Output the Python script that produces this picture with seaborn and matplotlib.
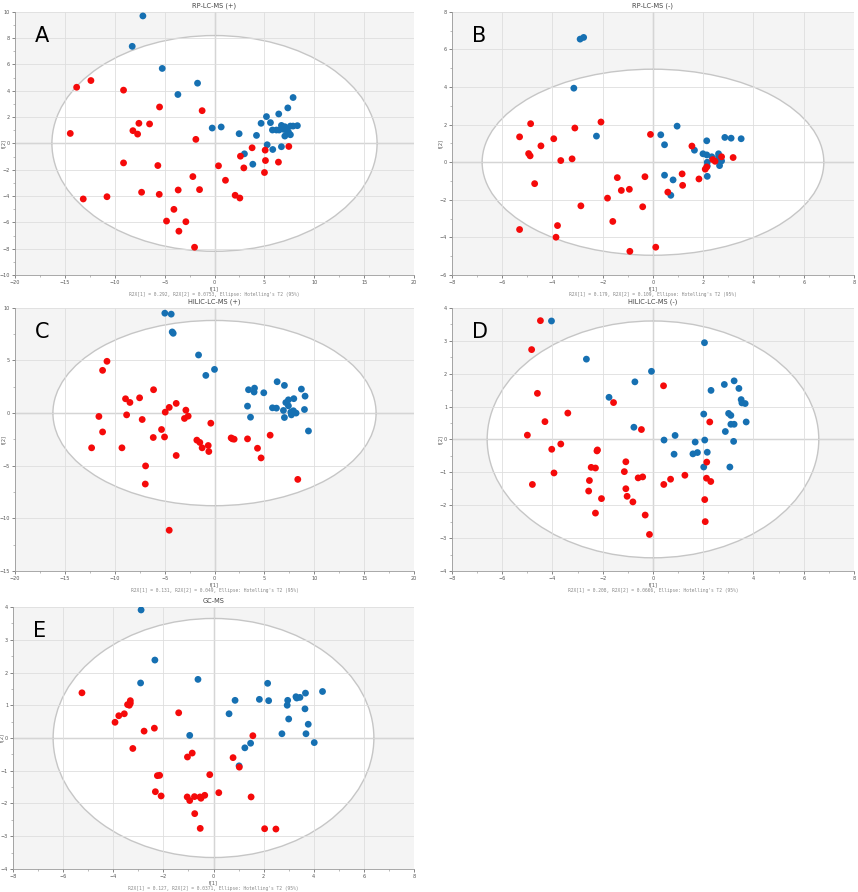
import numpy as np
import pandas as pd
import matplotlib
matplotlib.use('Agg')
import matplotlib.pyplot as plt
from matplotlib.patches import Ellipse
from matplotlib.ticker import MultipleLocator, AutoMinorLocator
import seaborn as sns

# ── Score values ─────────────────────────────────────────────
a_blue_x = [-7.18, -8.25, -5.24, -1.70, -3.67, -0.23, 0.67, 2.47, 3.0, 3.84, 4.21, 4.67, 5.21, 5.61,
            5.28, 5.84, 6.44, 7.35, 7.88, 5.81, 6.21, 6.48, 6.71, 7.05, 7.21, 7.61, 7.88, 8.31, 7.41,
            7.05, 7.61, 6.71, 6.94]
a_blue_y = [9.69, 7.38, 5.70, 4.58, 3.72, 1.17, 1.25, 0.74, -0.79, -1.58, 0.61, 1.53, 2.04, 1.58,
            -0.10, -0.46, 2.24, 2.70, 3.49, 1.02, 1.02, 1.02, 1.37, 1.27, 1.02, 1.32, 1.32, 1.35, 0.87,
            0.56, 0.66, -0.25, 1.07]
a_red_x = [-14.46, -13.82, -12.39, -13.16, -10.78, -9.12, -9.12, -8.18, -7.71, -7.58, -6.51, -5.51,
           -5.68, -7.31, -5.54, -3.64, -4.07, -4.81, -2.87, -3.57, -2.0, -2.17, -1.50, -1.87, -1.24,
           0.40, 1.10, 2.07, 2.54, 2.60, 2.94, 3.77, 5.08, 5.11, 5.01, 6.41, 7.45]
a_red_y = [0.76, 4.27, 4.78, -4.22, -4.05, 4.05, -1.48, 0.97, 0.71, 1.53, 1.48, 2.77,
           -1.68, -3.71, -3.87, -3.54, -5.01, -5.90, -5.95, -6.67, -7.89, -2.52, -3.51, 0.31, 2.49,
           -1.70, -2.80, -3.94, -4.15, -0.97, -1.86, -0.33, -0.51, -1.30, -2.21, -1.42, -0.23]

b_blue_x = [-2.90, -2.76, -3.15, -2.25, 0.31, 0.46, 0.96, 1.65, 2.14, 1.99, 2.14, 2.34, 2.61, 2.61,
            2.63, 2.73, 2.16, 2.16, 2.65, 2.16, 0.46, 0.80, 0.71, 2.86, 3.11, 3.51]
b_blue_y = [6.55, 6.64, 3.94, 1.39, 1.46, 0.93, 1.92, 0.64, 1.14, 0.45, 0.39, 0.29, 0.45, 0.29,
            0.14, 0.07, 0.0, -0.20, -0.18, -0.75, -0.69, -0.94, -1.76, 1.32, 1.28, 1.25]
b_red_x = [-5.31, -5.31, -4.87, -4.95, -4.89, -4.71, -4.46, -3.95, -3.67, -3.22, -3.11, -2.87,
           -3.80, -3.86, -2.07, -1.42, -1.26, -0.94, -1.81, -1.60, -0.92, 0.11, -0.41, -0.32,
           -0.10, 0.59, 1.16, 1.18, 1.55, 1.83, 2.08, 2.14, 2.38, 2.47, 2.73, 3.19]
b_red_y = [-3.58, 1.35, 2.05, 0.46, 0.34, -1.14, 0.87, 1.25, 0.09, 0.18, 1.82, -2.32,
           -3.37, -3.99, 2.14, -0.82, -1.50, -1.44, -1.91, -3.15, -4.74, -4.52, -2.37, -0.77,
           1.48, -1.59, -0.62, -1.23, 0.86, -0.89, -0.37, -0.25, 0.14, 0.05, 0.29, 0.25]

c_blue_x = [-4.98, -4.34, -4.24, -4.14, -1.60, 0.0, -0.87, 3.31, 3.41, 4.01, 3.97, 3.61, 4.94, 5.81,
            6.21, 6.28, 7.01, 7.41, 7.15, 7.41, 7.95, 6.91, 7.01, 7.71, 7.91, 8.18, 7.65, 8.71, 9.08,
            9.02, 9.42]
c_blue_y = [9.49, 9.40, 7.71, 7.58, 5.52, 4.15, 3.58, 0.66, 2.22, 2.37, 2.0, -0.39, 1.93, 0.50,
            0.47, 2.98, 2.63, 1.26, 1.0, 0.69, 1.37, 0.25, -0.42, -0.17, 0.22, 0.0, 0.09, 2.28, 1.61,
            0.34, -1.70]
c_red_x = [-12.32, -11.59, -11.22, -11.22, -10.78, -9.28, -8.92, -8.81, -8.48, -7.51, -7.25, -6.91,
           -6.94, -6.11, -6.14, -5.31, -5.01, -4.94, -4.54, -3.84, -3.84, -4.54, -3.01, -2.87, -2.64,
           -1.77, -1.47, -1.24, -0.63, -0.57, -0.37, 1.67, 1.80, 1.97, 3.31, 4.31, 4.67, 5.58, 8.35]
c_red_y = [-3.30, -0.32, -1.79, 4.06, 4.92, -3.30, 1.36, -0.17, 1.01, 1.45, -0.61, -5.02,
           -6.74, 2.22, -2.32, -1.56, -2.27, 0.09, 0.54, 0.92, -4.03, -11.13, -0.51, 0.28, -0.29,
           -2.57, -2.79, -3.30, -3.08, -3.65, -0.96, -2.36, -2.45, -2.48, -2.45, -3.34, -4.26, -2.10, -6.30]

d_blue_x = [-4.04, -2.65, -1.75, -0.72, -0.76, -0.06, 0.44, 0.88, 0.84, 1.59, 1.68, 1.77, 2.05, 2.02,
            2.06, 2.16, 2.02, 2.31, 2.84, 2.88, 3.01, 3.10, 3.10, 3.23, 3.23, 3.42, 3.51, 3.54, 3.67,
            3.71, 3.21, 3.06]
d_blue_y = [3.60, 2.44, 1.28, 1.75, 0.37, 2.07, -0.02, 0.12, -0.45, -0.44, -0.08, -0.40, 2.94, 0.77,
            -0.02, -0.39, -0.84, 1.49, 1.67, 0.24, 0.79, 0.73, 0.46, 0.46, 1.78, 1.55, 1.21, 1.11, 1.09,
            0.53, -0.06, -0.84]
d_red_x = [-4.48, -4.83, -4.60, -4.30, -3.39, -5.00, -4.03, -3.67, -3.94, -4.80, -2.21, -2.23, -2.46,
           -2.29, -2.53, -2.56, -2.05, -2.29, -1.57, -1.08, -1.14, -1.08, -1.03, -0.80, -0.59, -0.41,
           -0.31, -0.14, -0.46, 0.42, 0.43, 0.70, 1.27, 2.26, 2.14, 2.13, 2.30, 2.06, 2.08]
d_red_y = [3.61, 2.73, 1.40, 0.54, 0.80, 0.13, -0.30, -0.14, -1.02, -1.37, -0.32, -0.35, -0.85,
           -0.87, -1.25, -1.57, -1.80, -2.24, 1.12, -0.68, -0.98, -1.50, -1.73, -1.90, -1.17, -1.14,
           -2.30, -2.89, 0.30, 1.63, -1.37, -1.21, -1.09, 0.53, -0.69, -1.18, -1.28, -1.83, -2.50]

e_blue_x = [-2.89, -2.34, -2.91, -0.62, -0.95, 0.62, 0.86, 1.02, 1.25, 1.48, 1.83, 2.16, 2.20, 2.73,
            2.94, 2.96, 3.00, 3.29, 3.32, 3.45, 3.67, 3.65, 3.78, 3.69, 4.02, 4.35]
e_blue_y = [3.91, 2.38, 1.68, 1.79, 0.08, 0.74, 1.15, -0.85, -0.30, -0.16, 1.18, 1.67, 1.14, 0.13,
            1.0, 1.15, 0.58, 1.26, 1.22, 1.24, 1.37, 0.89, 0.42, 0.13, -0.14, 1.42]
e_red_x = [-5.25, -3.93, -3.78, -3.56, -3.43, -3.36, -3.32, -3.32, -3.22, -2.77, -2.36, -2.32, -2.24,
           -2.15, -2.09, -1.39, -1.05, -1.04, -0.85, -0.95, -0.76, -0.75, -0.54, -0.50, -0.53, -0.35,
           -0.15, 0.21, 0.78, 1.03, 1.50, 1.57, 2.04, 2.49]
e_red_y = [1.38, 0.48, 0.68, 0.74, 1.02, 1.0, 1.14, 1.06, -0.32, 0.21, 0.30, -1.64, -1.15,
           -1.14, -1.77, 0.77, -1.80, -0.58, -0.46, -1.91, -1.79, -2.31, -1.80, -1.84, -2.76, -1.75,
           -1.12, -1.67, -0.60, -0.89, -1.80, 0.07, -2.77, -2.78]

titles = ['RP-LC-MS (+)', 'RP-LC-MS (-)', 'HILIC-LC-MS (+)', 'HILIC-LC-MS (-)', 'GC-MS']
letters = ['A', 'B', 'C', 'D', 'E']
r2x = [('0.292', '0.0753'), ('0.179', '0.109'), ('0.131', '0.049'),
       ('0.208', '0.0666'), ('0.127', '0.0371')]

# ── Panel layout (fig fractions) and axis settings ───────────
panels = [
    dict(bx=a_blue_x, by=a_blue_y, rx=a_red_x, ry=a_red_y, rect=[0.0175, 0.6917, 0.465, 0.295],
         xlim=(-20, 20), ylim=(-10, 10), xs=5, ys=2, ell=(16.3, 8.2)),
    dict(bx=b_blue_x, by=b_blue_y, rx=b_red_x, ry=b_red_y, rect=[0.5268, 0.6917, 0.4685, 0.295],
         xlim=(-8, 8), ylim=(-6, 8), xs=2, ys=2, ell=(6.8, 4.95)),
    dict(bx=c_blue_x, by=c_blue_y, rx=c_red_x, ry=c_red_y, rect=[0.0175, 0.3599, 0.465, 0.295],
         xlim=(-20, 20), ylim=(-15, 10), xs=5, ys=5, ell=(16.2, 8.8)),
    dict(bx=d_blue_x, by=d_blue_y, rx=d_red_x, ry=d_red_y, rect=[0.5268, 0.3599, 0.4685, 0.295],
         xlim=(-8, 8), ylim=(-4, 4), xs=2, ys=1, ell=(6.6, 3.6)),
    dict(bx=e_blue_x, by=e_blue_y, rx=e_red_x, ry=e_red_y, rect=[0.0152, 0.0258, 0.4673, 0.2937],
         xlim=(-8, 8), ylim=(-4, 4), xs=2, ys=1, ell=(6.4, 3.65)),
]

sns.set_theme(style='white')
plt.rcParams['font.family'] = ['DejaVu Sans']

fig = plt.figure(figsize=(8.58, 8.92), dpi=100)
palette = {'blue': '#1670b2', 'red': '#f50a0a'}

for i, p in enumerate(panels):
    ax = fig.add_axes(p['rect'])
    ax.set_facecolor('#f4f4f4')

    df = pd.DataFrame({
        't1': p['bx'] + p['rx'],
        't2': p['by'] + p['ry'],
        'grp': ['blue'] * len(p['bx']) + ['red'] * len(p['rx']),
    })

    # Hotelling's T2 ellipse (white inside, grey rim)
    ew, eh = p['ell']
    ax.add_patch(Ellipse((0, 0), 2 * ew, 2 * eh, facecolor='white',
                         edgecolor='#c6c6c6', lw=1.0, zorder=0.5))
    ax.axhline(0, color='#a8a8a8', lw=0.9, zorder=1.2)
    ax.axvline(0, color='#a8a8a8', lw=0.9, zorder=1.2)

    sns.scatterplot(data=df, x='t1', y='t2', hue='grp', palette=palette, s=24,
                    linewidth=0, legend=False, ax=ax, zorder=3)

    ax.set_xlim(*p['xlim'])
    ax.set_ylim(*p['ylim'])
    ax.xaxis.set_major_locator(MultipleLocator(p['xs']))
    ax.yaxis.set_major_locator(MultipleLocator(p['ys']))
    ax.xaxis.set_minor_locator(AutoMinorLocator(2))
    ax.yaxis.set_minor_locator(AutoMinorLocator(2))
    ax.set_axisbelow('line')
    ax.grid(True, which='major', color='#dedede', lw=0.6, zorder=1)
    ax.tick_params(which='major', labelsize=3.5, length=2, width=0.5, colors='#555555', pad=1.5,
                   bottom=True, left=True)
    ax.tick_params(which='minor', length=1.2, width=0.4, colors='#888888', bottom=True, left=True)

    for side in ['top', 'right']:
        ax.spines[side].set_visible(False)
    for side in ['left', 'bottom']:
        ax.spines[side].set_color('#9a9a9a')
        ax.spines[side].set_linewidth(0.6)

    ax.set_xlabel('t[1]', fontsize=3.5, color='#555555', labelpad=1)
    ax.set_ylabel('t[2]', fontsize=3.5, color='#555555', labelpad=1)
    ax.yaxis.set_label_coords(-0.022, 0.5)
    ax.set_title(titles[i], fontsize=4.8, color='#444444', pad=3)
    ax.text(0.5, -0.065, f"R2X[1] = {r2x[i][0]}, R2X[2] = {r2x[i][1]}, Ellipse: Hotelling's T2 (95%)",
            transform=ax.transAxes, ha='center', va='top', fontsize=3.3, color='#888888',
            family='DejaVu Sans Mono')
    ax.text(0.05, 0.945, letters[i], transform=ax.transAxes, ha='left', va='top',
            fontsize=15, color='black')

fig.savefig('out.png', dpi=100, facecolor='white')
